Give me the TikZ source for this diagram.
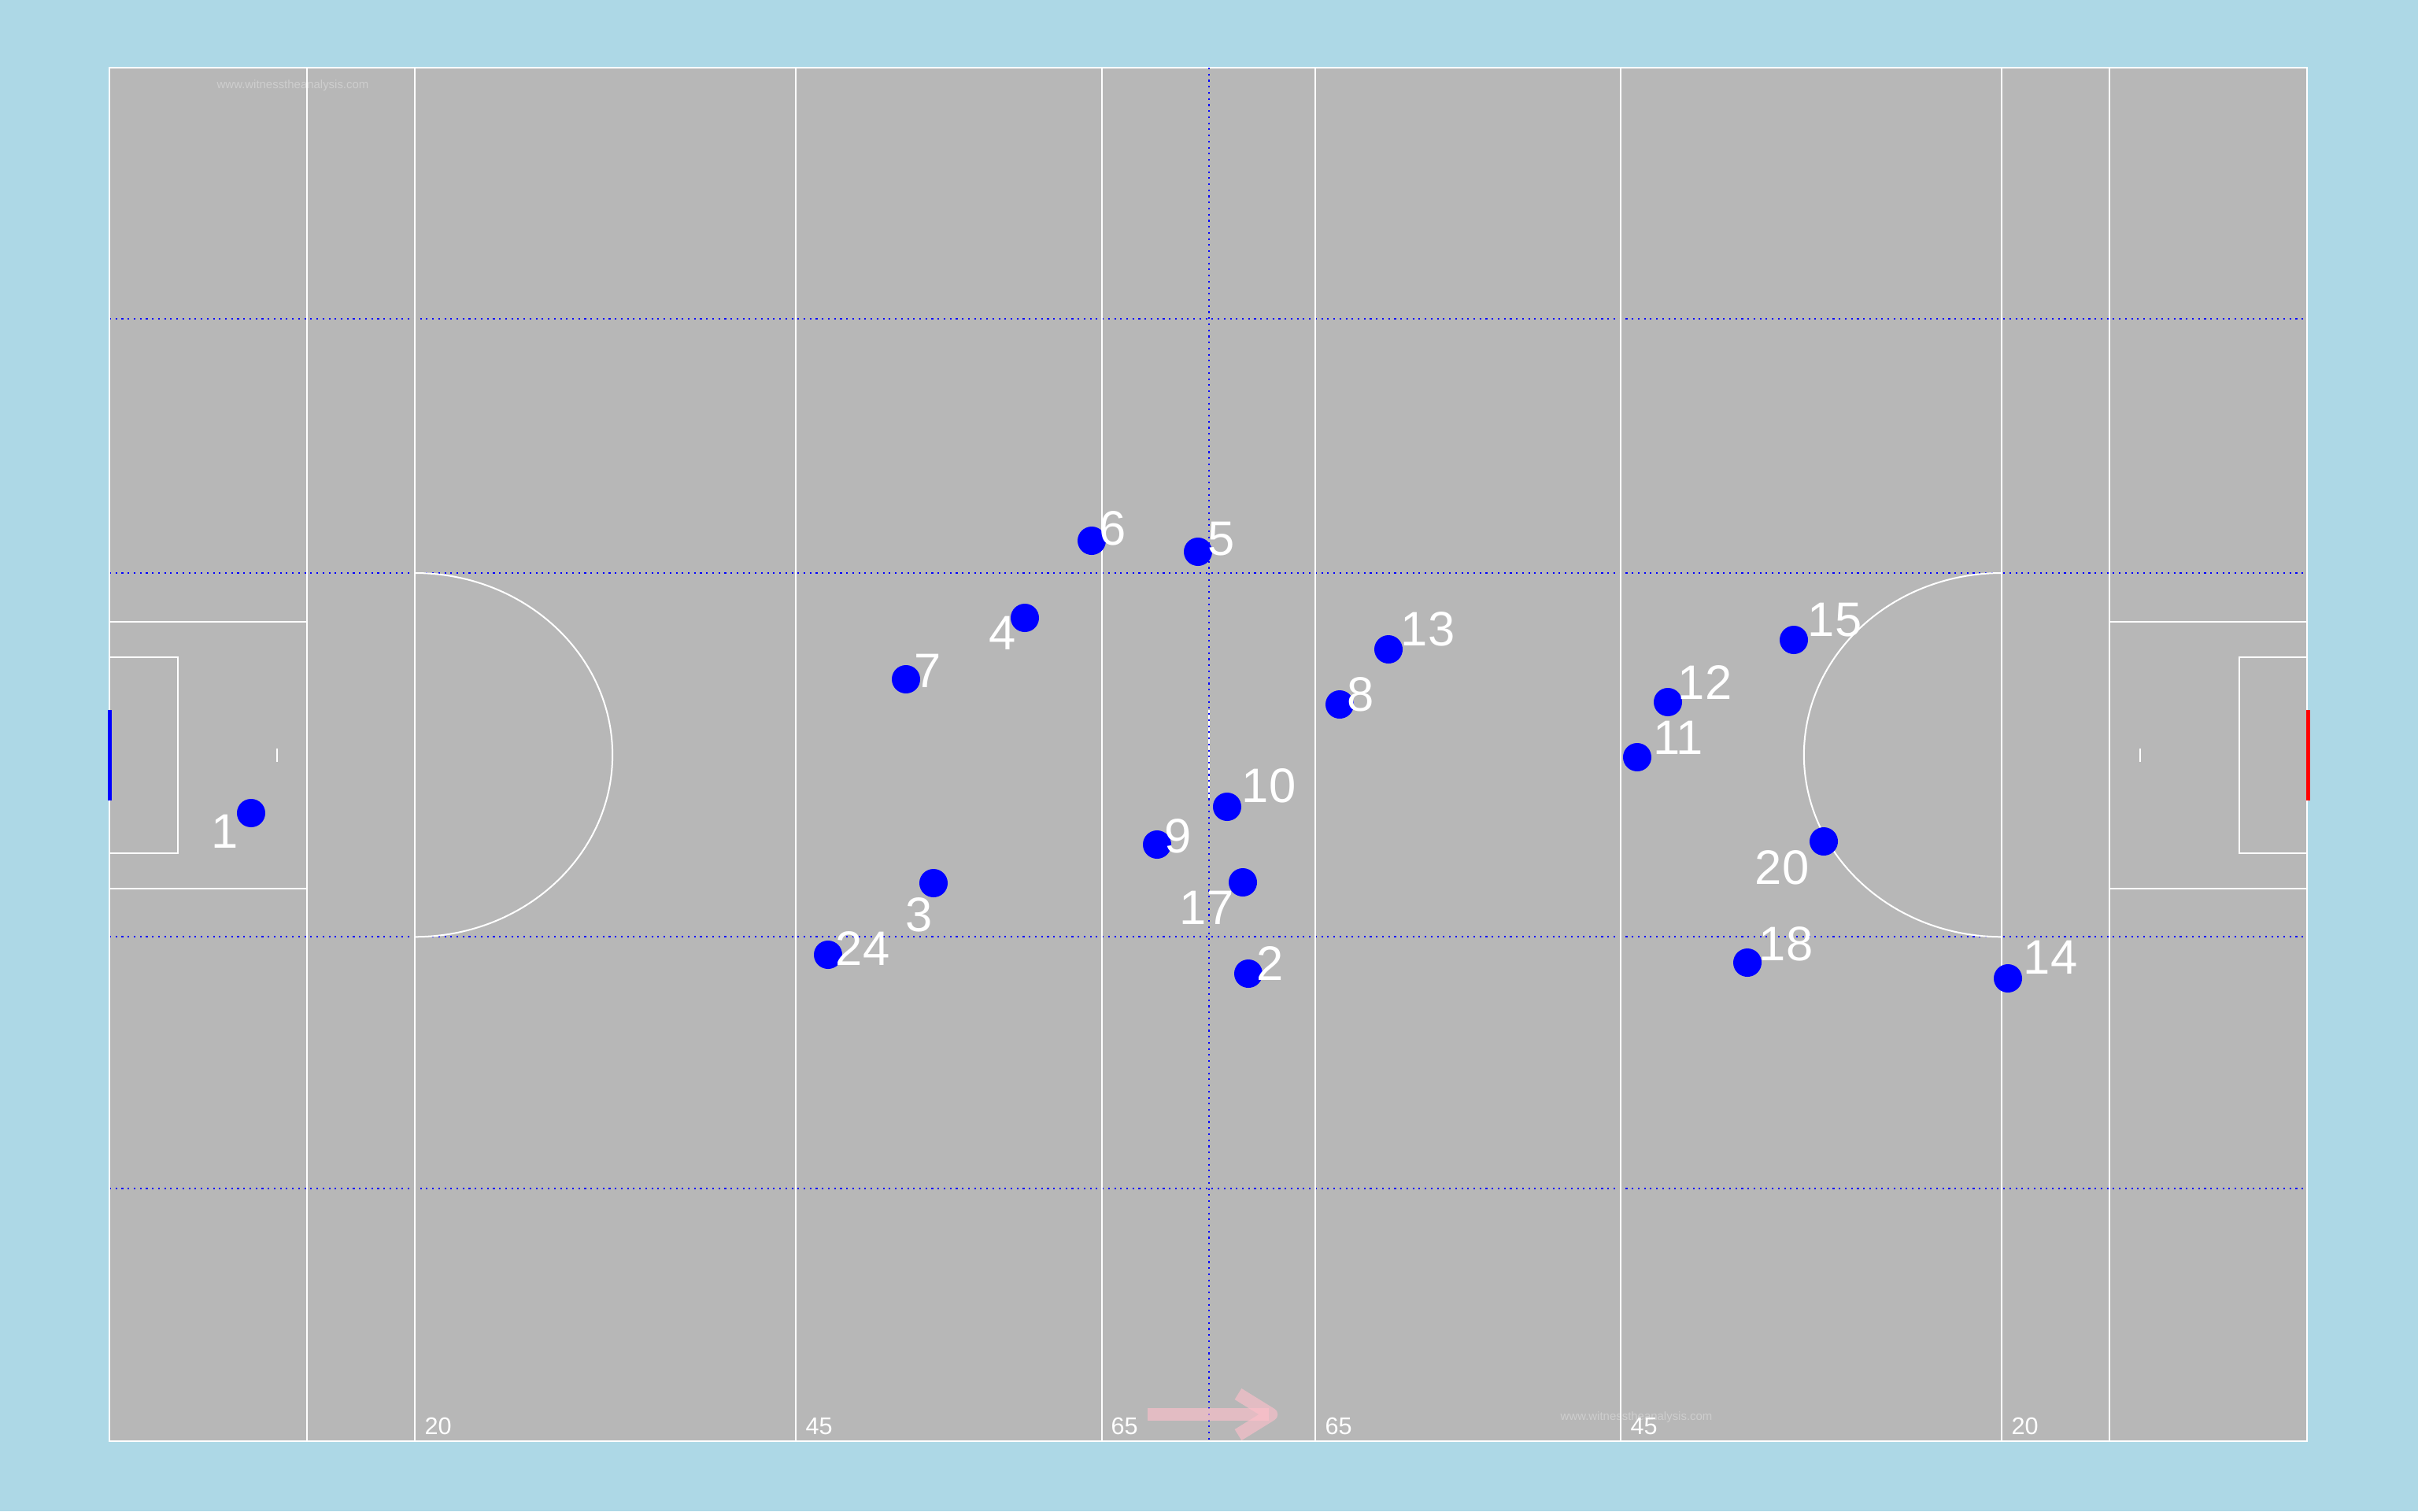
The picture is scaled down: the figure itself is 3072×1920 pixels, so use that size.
\documentclass[tikz,border=0pt]{standalone}
\usepackage{fontspec}
\setmainfont{Liberation Sans}
\definecolor{bgblue}{RGB}{173,216,230}
\definecolor{pitchgray}{RGB}{183,183,183}
\definecolor{wmark}{RGB}{206,206,206}
\definecolor{arrowpink}{RGB}{255,192,203}
\begin{document}
\begin{tikzpicture}[x=0.01cm,y=-0.01cm,
  wline/.style={draw=white,line width=0.02cm},
  dotline/.style={draw=blue,line width=0.6pt,dash pattern=on 0.6pt off 1.6pt},
  player/.style={circle,fill=blue,inner sep=0pt,minimum size=0.36cm},
  num/.style={text=white,inner sep=0pt,anchor=base,font=\fontsize{17.5}{20}\selectfont},
  dist/.style={text=white,inner sep=0pt,anchor=base west,font=\fontsize{8.7}{10}\selectfont},
  wm/.style={text=wmark,inner sep=0pt,anchor=base west,font=\fontsize{4.25}{5}\selectfont},
  pinkarrow/.style={draw=arrowpink,opacity=0.62,line width=0.165cm}]
\useasboundingbox (0,0) rectangle (3072,1920);
\fill[bgblue] (0,0) rectangle (3072,1920);
\fill[pitchgray] (139,86) rectangle (2931,1831);
% watermarks
\node[wm] (wm1) at (275,112.5) {www.witnesstheanalysis.com};
\node[wm] (wm2) at (1982,1804) {www.witnesstheanalysis.com};
% dotted guide lines
\foreach \yy in {405,728,1190,1510} \draw[dotline] (139,\yy) -- (2931,\yy);
\draw[dotline] (1536,86) -- (1536,1831);
% white pitch lines
\draw[wline] (139,86) rectangle (2931,1831);
\foreach \xx in {390,527,1011,1400,1671,2059,2543,2680} \draw[wline] (\xx,86) -- (\xx,1831);
\draw[wline] (527,728) arc[start angle=90,end angle=-90,x radius=2.51cm,y radius=2.31cm];
\draw[wline] (2543,728) arc[start angle=90,end angle=270,x radius=2.51cm,y radius=2.31cm];
\draw[wline] (139,790) -- (390,790);
\draw[wline] (139,1129) -- (390,1129);
\draw[wline] (139,835) -- (226,835) -- (226,1084) -- (139,1084);
\draw[wline] (2680,790) -- (2931,790);
\draw[wline] (2680,1129) -- (2931,1129);
\draw[wline] (2931,835) -- (2845,835) -- (2845,1084) -- (2931,1084);
\draw[wline] (352,951) -- (352,968);
\draw[wline] (2719,951) -- (2719,968);
\draw[wline] (1536,902) -- (1536,1017);
\draw[dotline] (1536,86) -- (1536,1831);
% goals
\fill[blue] (137,902) rectangle (142,1017);
\fill[red] (2930,902) rectangle (2935,1017);
% distance labels
\node[dist] (d20a) at (539,1822) {20};
\node[dist] (d45a) at (1023,1822) {45};
\node[dist] (d65a) at (1411,1822) {65};
\node[dist] (d65b) at (1683,1822) {65};
\node[dist] (d45b) at (2071,1822) {45};
\node[dist] (d20b) at (2555,1822) {20};
% direction arrow
\draw[pinkarrow] (1458,1797) -- (1612,1797);
\draw[pinkarrow,line join=round] (1573,1771) -- (1615,1797) -- (1573,1823);
% players
\node[player] (p1) at (319,1033) {};
\node[player] (p6) at (1387,687) {};
\node[player] (p5) at (1522,701) {};
\node[player] (p4) at (1302,785) {};
\node[player] (p7) at (1151,863) {};
\node[player] (p24) at (1052,1213) {};
\node[player] (p3) at (1186,1122) {};
\node[player] (p9) at (1470,1073) {};
\node[player] (p10) at (1559,1025) {};
\node[player] (p17) at (1579,1121) {};
\node[player] (p2) at (1586,1237) {};
\node[player] (p13) at (1764,825) {};
\node[player] (p8) at (1702,895) {};
\node[player] (p12) at (2119,892) {};
\node[player] (p11) at (2080,962) {};
\node[player] (p15) at (2279,813) {};
\node[player] (p20) at (2317,1069) {};
\node[player] (p18) at (2220,1223) {};
\node[player] (p14) at (2551,1243) {};
% numbers
\node[num] (n1) at (286,1077) {1};
\node[num] (n6) at (1414,692) {6};
\node[num] (n5) at (1552,705) {5};
\node[num] (n4) at (1274,825) {4};
\node[num] (n7) at (1179,873) {7};
\node[num] (n24) at (1096,1226) {24};
\node[num] (n3) at (1168,1183) {3};
\node[num] (n9) at (1497,1083) {9};
\node[num] (n10) at (1612,1019) {10};
\node[num] (n17) at (1533,1174) {17};
\node[num] (n2) at (1614,1245) {2};
\node[num] (n13) at (1814,820) {13};
\node[num] (n8) at (1729,903) {8};
\node[num] (n12) at (2166,888) {12};
\node[num] (n11) at (2132,958) {11};
\node[num] (n15) at (2331,808) {15};
\node[num] (n20) at (2264,1123) {20};
\node[num] (n18) at (2269,1220) {18};
\node[num] (n14) at (2605,1237) {14};
\end{tikzpicture}
\end{document}
